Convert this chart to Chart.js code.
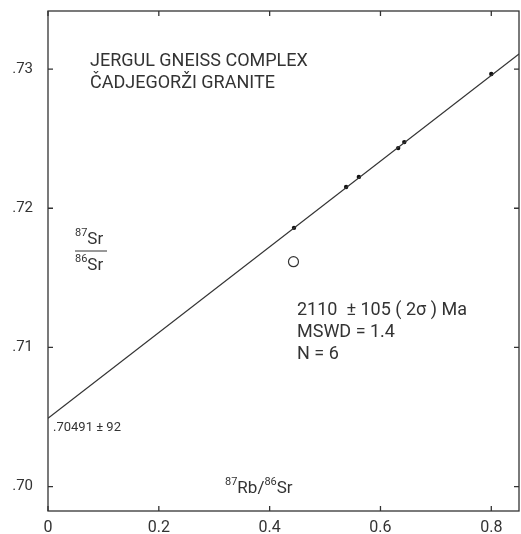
<!DOCTYPE html>
<html>
<head>
<meta charset="utf-8">
<script src="https://cdn.jsdelivr.net/npm/chart.js@4"></script>
<style>
html, body { margin: 0; padding: 0; background: #fff; }
#wrap { width: 521px; height: 534px; }
</style>
</head>
<body>
<div id="wrap"><canvas id="c"></canvas></div>
<script>
// whole-rock data
var rbSr = [0.444, 0.538, 0.561, 0.632, 0.643, 0.800];
var srSr = [0.71859, 0.72153, 0.72225, 0.72432, 0.72475, 0.72964];
// sample left out of the regression (open circle)
var rejectRb = [0.443];
var rejectSr = [0.71616];
// isochron
var intercept = 0.70491;
var slope = 0.0308;
var lineRb = [0, 0.85];

var xTicks = [0, 0.2, 0.4, 0.6, 0.8];
var xLabels = ["0", "0.2", "0.4", "0.6", "0.8"];
var yTicks = [0.70, 0.71, 0.72, 0.73];
var yLabels = [".70", ".71", ".72", ".73"];

var ink = "#333";
var fontFam = "Roboto, 'DejaVu Sans', sans-serif";

var pts = rbSr.map(function(x, i) { return {x: x, y: srSr[i]}; });
var rej = rejectRb.map(function(x, i) { return {x: x, y: rejectSr[i]}; });
var iso = lineRb.map(function(x) { return {x: x, y: intercept + slope * x}; });

// draws pieces of text, some of them raised as superscripts
function runText(ctx, x, y, parts) {
    parts.forEach(function(p) {
        ctx.font = p[1] + "px " + fontFam;
        ctx.fillText(p[0], x, y - (p[2] || 0));
        x += ctx.measureText(p[0]).width;
    });
}

var framePlugin = {
    id: "frame",
    afterDatasetsDraw: function(chart) {
        var ctx = chart.ctx, a = chart.chartArea;
        var sx = chart.scales.x, sy = chart.scales.y;
        ctx.save();
        ctx.strokeStyle = ink;
        ctx.lineWidth = 1.3;
        ctx.strokeRect(a.left, a.top, a.right - a.left, a.bottom - a.top);
        ctx.beginPath();
        xTicks.forEach(function(v) {
            var px = sx.getPixelForValue(v);
            ctx.moveTo(px, a.bottom); ctx.lineTo(px, a.bottom - 5);
            ctx.moveTo(px, a.top); ctx.lineTo(px, a.top + 5);
        });
        yTicks.forEach(function(v) {
            var py = sy.getPixelForValue(v);
            ctx.moveTo(a.left, py); ctx.lineTo(a.left + 5, py);
            ctx.moveTo(a.right, py); ctx.lineTo(a.right - 5, py);
        });
        ctx.stroke();

        ctx.fillStyle = ink;
        ctx.textBaseline = "middle";
        ctx.textAlign = "left";
        ctx.font = "18px " + fontFam;
        ctx.fillText("JERGUL GNEISS COMPLEX", 90, 61);
        ctx.fillText("ČADJEGORŽI GRANITE", 90, 83);

        ctx.fillText("2110  ± 105 ( 2σ ) Ma", 297, 310);
        ctx.fillText("MSWD = 1.4", 297, 332);
        ctx.fillText("N = 6", 297, 354);

        ctx.font = "13px " + fontFam;
        ctx.fillText(".70491 ± 92", 53, 428);

        runText(ctx, 225, 489, [["87", 11, 7], ["Rb/", 17], ["86", 11, 7], ["Sr", 17]]);

        // 87Sr / 86Sr fraction
        runText(ctx, 75, 240, [["87", 11, 7], ["Sr", 17]]);
        runText(ctx, 75, 266, [["86", 11, 7], ["Sr", 17]]);
        ctx.beginPath();
        ctx.lineWidth = 1;
        ctx.moveTo(75, 251); ctx.lineTo(107, 251);
        ctx.stroke();
        ctx.restore();
    }
};

new Chart(document.getElementById("c"), {
    type: "scatter",
    data: {
        datasets: [
            {
                data: iso, showLine: true, borderColor: ink, borderWidth: 1.2,
                pointRadius: 0, fill: false
            },
            {
                data: pts, pointRadius: 2.2, pointBackgroundColor: "#111",
                pointBorderColor: "#111", pointBorderWidth: 0
            },
            {
                data: rej, pointRadius: 5, pointBackgroundColor: "rgba(0,0,0,0)",
                pointBorderColor: ink, pointBorderWidth: 1.2
            }
        ]
    },
    options: {
        responsive: true,
        maintainAspectRatio: false,
        animation: false,
        layout: { autoPadding: false, padding: { top: 11, right: 2, left: 0, bottom: 0 } },
        plugins: { legend: { display: false }, tooltip: { enabled: false } },
        scales: {
            x: {
                type: "linear", min: 0, max: 0.85,
                afterBuildTicks: function(s) { s.ticks = xTicks.map(function(v) { return {value: v}; }); },
                afterFit: function(s) { s.height = 23; s.paddingLeft = 0; s.paddingRight = 0; },
                grid: { display: false, drawTicks: false },
                border: { display: false },
                ticks: {
                    color: ink, padding: 7, maxRotation: 0,
                    font: { family: fontFam, size: 16 },
                    callback: function(v) { return xLabels[xTicks.indexOf(v)]; }
                }
            },
            y: {
                type: "linear", min: 0.69825, max: 0.73417,
                afterBuildTicks: function(s) { s.ticks = yTicks.map(function(v) { return {value: v}; }); },
                afterFit: function(s) {
                    s.width = 48;
                    s.paddingTop = 0; s.paddingBottom = 0;
                },
                grid: { display: false, drawTicks: false },
                border: { display: false },
                ticks: {
                    color: ink, padding: 15,
                    font: { family: fontFam, size: 15 },
                    callback: function(v) {
                        for (var i = 0; i < yTicks.length; i++) {
                            if (Math.abs(yTicks[i] - v) < 1e-6) return yLabels[i];
                        }
                        return "";
                    }
                }
            }
        }
    },
    plugins: [framePlugin]
});
</script>
</body>
</html>
